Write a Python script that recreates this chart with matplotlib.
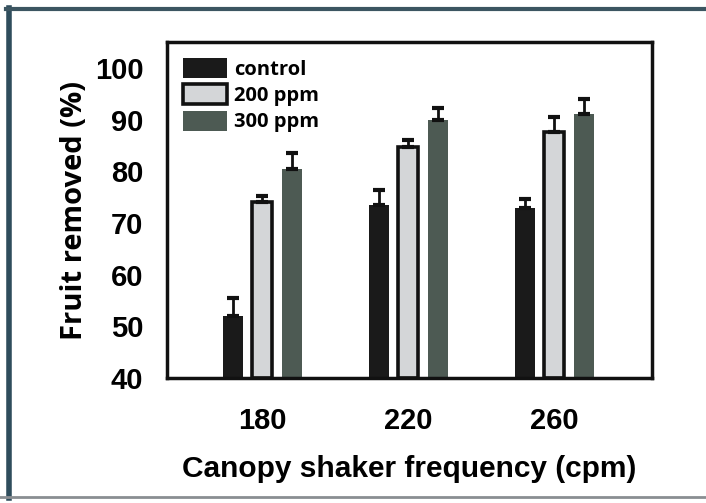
import numpy as np
import matplotlib
matplotlib.use("Agg")
import matplotlib.pyplot as plt
from matplotlib.patches import Patch
from matplotlib.lines import Line2D

# data
freqs = ["180", "220", "260"]
series = ["control", "200 ppm", "300 ppm"]
control = [51.9, 73.5, 72.9]
ppm200 = [74.1, 84.7, 87.6]
ppm300 = [80.4, 90.0, 91.1]
err_control = [3.6, 2.9, 1.7]
err_200 = [1.1, 1.3, 2.9]
err_300 = [3.1, 2.3, 2.8]

values = [control, ppm200, ppm300]
errors = [err_control, err_200, err_300]
colors = ["#1a1a1a", "#d4d6d8", "#4d5a53"]
edges = ["#1a1a1a", "#111111", "#4d5a53"]
edge_lw = [0, 2.6, 0]

plt.rcParams['font.family'] = ['Open Sans', 'DejaVu Sans']
sans = ['Liberation Sans', 'DejaVu Sans']

fig = plt.figure(figsize=(7.06, 5.03), dpi=100)
ax = fig.add_axes([0.2365, 0.2485, 0.687, 0.668])

x = np.arange(len(freqs))
w = 0.137
step = 0.205
for i in range(3):
    pos = x + (i - 1) * step
    ax.bar(pos, [v - 40 for v in values[i]], width=w, bottom=40,
           color=colors[i], edgecolor=edges[i], linewidth=edge_lw[i], zorder=2)
    ax.errorbar(pos, values[i], yerr=[np.zeros(3), errors[i]], fmt='none',
                ecolor='#111111', elinewidth=2, capsize=4, capthick=3, zorder=3)

ax.set_xlim(-0.654, 2.668)
ax.set_ylim(40, 105)
ax.set_yticks([40, 50, 60, 70, 80, 90, 100])
ax.set_xticks(x)
ax.set_xticklabels(freqs)
ax.tick_params(length=0)
ax.tick_params(axis='y', pad=17)
ax.tick_params(axis='x', pad=21)
for lab in ax.get_xticklabels() + ax.get_yticklabels():
    lab.set_family(sans)
    lab.set_fontweight('bold')
    lab.set_fontsize(21)
for s in ax.spines.values():
    s.set_linewidth(2.5)
    s.set_color('#111111')

ax.set_xlabel("Canopy shaker frequency (cpm)", family=sans, fontweight='bold',
              fontsize=21.5, labelpad=14)
ax.set_ylabel("Fruit removed (%)", fontweight='bold', fontsize=21, labelpad=4)

handles = [Patch(facecolor=colors[i], edgecolor=edges[i], linewidth=edge_lw[i])
           for i in range(3)]
leg = ax.legend(handles, series, loc='upper left', bbox_to_anchor=(0.033, 0.952),
                frameon=False, handlelength=2.2, handleheight=1.15,
                labelspacing=0.22, handletextpad=0.35, borderaxespad=0,
                borderpad=0,
                prop={'family': ['Open Sans', 'DejaVu Sans'], 'weight': 'bold', 'size': 14.5})

# scan frame around the figure
fig.add_artist(Line2D([0.0125, 0.0125], [0.01, 0.985], transform=fig.transFigure,
                      color='#2f4d5c', linewidth=4))
fig.add_artist(Line2D([0.009, 1.0], [0.982, 0.982], transform=fig.transFigure,
                      color='#3c5561', linewidth=3))
fig.add_artist(Line2D([0.0, 1.0], [0.011, 0.011], transform=fig.transFigure,
                      color='#8a8e92', linewidth=2))

fig.savefig("out.png", dpi=100)
